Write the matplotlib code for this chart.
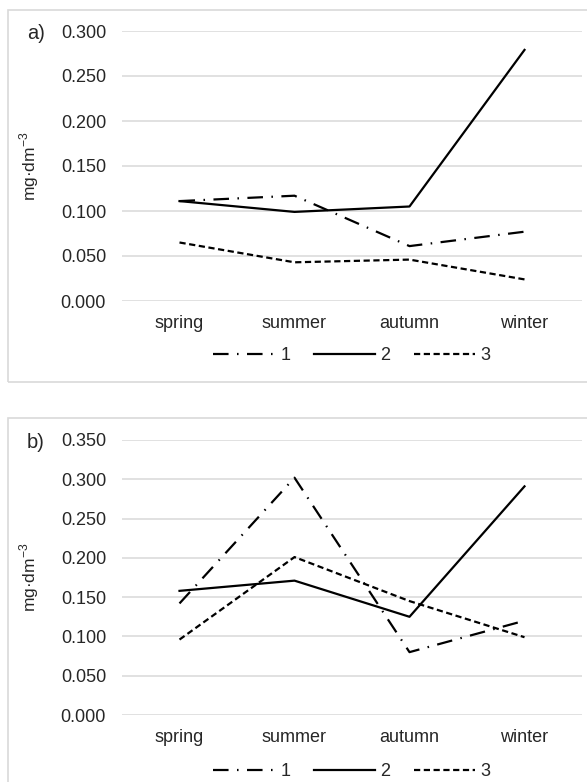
import matplotlib.pyplot as plt
from matplotlib.patches import Rectangle

seasons = ["spring", "summer", "autumn", "winter"]
series_names = ["1", "2", "3"]

# panel a) values, mg/dm3
a_s1 = [0.111, 0.117, 0.061, 0.077]
a_s2 = [0.111, 0.099, 0.105, 0.279]
a_s3 = [0.065, 0.043, 0.046, 0.024]

# panel b) values, mg/dm3
b_s1 = [0.142, 0.302, 0.080, 0.120]
b_s2 = [0.158, 0.171, 0.125, 0.291]
b_s3 = [0.096, 0.201, 0.145, 0.099]

plt.rcParams['font.family'] = ['Liberation Sans', 'DejaVu Sans']
plt.rcParams['mathtext.fontset'] = 'custom'
plt.rcParams['mathtext.rm'] = 'Liberation Sans'

styles = [(0, (7, 3.8, 0.7, 3.8)), '-', (0, (2.8, 1.6))]
grid_color = '#d9d9d9'
text_color = '#262626'

fig = plt.figure(figsize=(5.87, 7.82), dpi=100)

# outer chart frames
fig.patches.append(Rectangle((8 / 587, 1 - 382 / 782), 600 / 587, 372 / 782,
                             transform=fig.transFigure, fill=False,
                             edgecolor=grid_color, linewidth=1.2))
fig.patches.append(Rectangle((8 / 587, -0.05), 600 / 587, 1 - 418 / 782 + 0.05,
                             transform=fig.transFigure, fill=False,
                             edgecolor=grid_color, linewidth=1.2))


def draw_panel(rect, data, ymax, letter, legend_y):
    ax = fig.add_axes(rect)
    x = list(range(len(seasons)))
    for vals, ls, name in zip(data, styles, series_names):
        ax.plot(x, vals, color='black', linestyle=ls, linewidth=1.6, label=name)
    ax.set_xlim(-0.5, 3.5)
    ax.set_ylim(0, ymax)
    ticks = [i * 0.05 for i in range(int(round(ymax / 0.05)) + 1)]
    ax.set_yticks(ticks)
    ax.set_yticklabels([f"{t:.3f}" for t in ticks], fontsize=13, color=text_color)
    ax.set_xticks(x)
    ax.set_xticklabels(seasons, fontsize=13, color=text_color)
    ax.tick_params(axis='y', length=0, pad=11.5)
    ax.tick_params(axis='x', length=0, pad=10)
    for sp in ax.spines.values():
        sp.set_visible(False)
    ax.grid(axis='y', color=grid_color, linewidth=1.1)
    ax.set_axisbelow(True)
    ax.set_ylabel("mg·dm$^{\\mathregular{-3}}$", fontsize=12.5, color=text_color)
    ax.yaxis.set_label_coords(-0.176, 0.5)
    ax.text(-0.207, 0.99, letter, transform=ax.transAxes, fontsize=14.5,
            ha='left', va='center', color=text_color)
    leg = ax.legend(loc='center', bbox_to_anchor=(0.5, legend_y), ncol=3, frameon=False,
                    fontsize=13, handlelength=3.4, handletextpad=0.3, columnspacing=1.3)
    for t in leg.get_texts():
        t.set_color(text_color)
    return ax


draw_panel([122 / 587, 1 - 301 / 782, 460 / 587, 270 / 782],
           [a_s1, a_s2, a_s3], 0.300, "a)", -0.203)
draw_panel([122 / 587, 1 - 715 / 782, 460 / 587, 275 / 782],
           [b_s1, b_s2, b_s3], 0.350, "b)", -0.207)

fig.savefig("out.png", dpi=100)
